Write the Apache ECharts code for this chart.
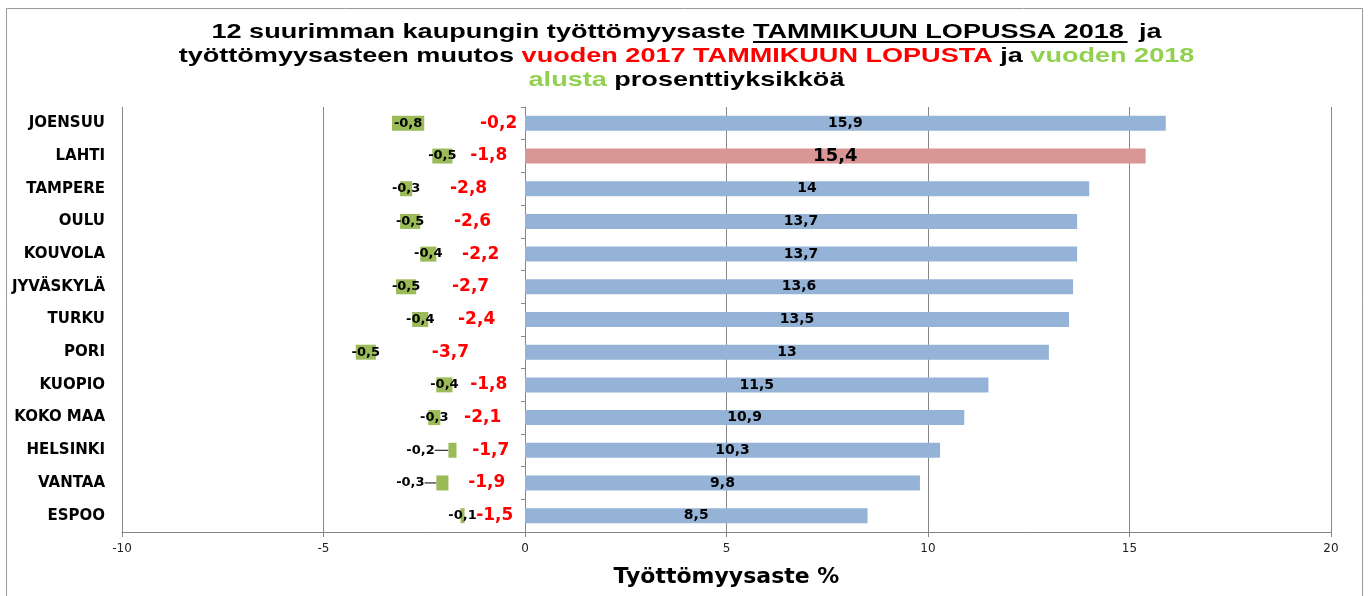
<!DOCTYPE html>
<html>
<head>
<meta charset="utf-8">
<script src="https://cdn.jsdelivr.net/npm/echarts@6/dist/echarts.min.js"></script>
<style>
  html, body { margin: 0; padding: 0; background: #fff; }
  #chart { width: 1369px; height: 596px; }
</style>
</head>
<body>
<div id="chart"></div>
<script>
// ---- data ----
const categories = ['JOENSUU', 'LAHTI', 'TAMPERE', 'OULU', 'KOUVOLA', 'JYVÄSKYLÄ', 'TURKU', 'PORI', 'KUOPIO', 'KOKO MAA', 'HELSINKI', 'VANTAA', 'ESPOO'];
// unemployment rate, end of January 2018 (%)
const rate2018 = [15.9, 15.4, 14.0, 13.7, 13.7, 13.6, 13.5, 13.0, 11.5, 10.9, 10.3, 9.8, 8.5];
// change from end of January 2017 (percentage points) - label values
const change2017 = [-0.2, -1.8, -2.8, -2.6, -2.2, -2.7, -2.4, -3.7, -1.8, -2.1, -1.7, -1.9, -1.5];
// hidden bar values the green bars sit on, as drawn in the picture
const change2017Bar = [-2.5, -1.8, -2.8, -2.6, -2.2, -2.7, -2.4, -3.7, -1.8, -2.1, -1.7, -1.9, -1.5];
// change from start of 2018 (percentage points)
const change2018 = [-0.8, -0.5, -0.3, -0.5, -0.4, -0.5, -0.4, -0.5, -0.4, -0.3, -0.2, -0.3, -0.1];
const xTicks = [-10, -5, 0, 5, 10, 15, 20];
const highlighted = 'LAHTI';
const leaderLabelCities = ['HELSINKI', 'VANTAA'];

const fmt = v => String(v).replace('.', ',');

const chart = echarts.init(document.getElementById('chart'));

const W = 1369;
const GRID = { left: 122, right: 38, top: 107, bottom: 64 };
const xMin = xTicks[0], xMax = xTicks[xTicks.length - 1];

// ---- title (horizontally stretched like the original) ----
const TFAM = '"Liberation Sans", Arial, sans-serif';
const TSIZE = 21;
const TFONT = 'bold ' + TSIZE + 'px ' + TFAM;
const ctx = document.createElement('canvas').getContext('2d');
ctx.font = TFONT;
const l1a = '12 suurimman kaupungin työttömyysaste ';
const l1u = 'TAMMIKUUN LOPUSSA 2018 ';
const l1b = ' ja';
const wA = ctx.measureText(l1a).width, wU = ctx.measureText(l1u).width, wB = ctx.measureText(l1b).width;
const w1 = wA + wU + wB;
const TSCALE = 950 / w1;
const cx = W / 2 + 2;
const uStart = cx + (-w1 / 2 + wA) * TSCALE;
const uEnd = uStart + (wU - 3) * TSCALE;

const rs = c => ({ fill: c, font: TFONT, fontFamily: TFAM, fontWeight: 'bold', fontSize: TSIZE });
const titleRich = { k: rs('#000000'), r: rs('#ff0000'), g: rs('#92d050') };
const titleLines = [
  '{k|' + l1a + l1u + l1b + '}',
  '{k|työttömyysasteen muutos }{r|vuoden 2017 TAMMIKUUN LOPUSTA}{k| ja }{g|vuoden 2018}',
  '{g|alusta}{k| prosenttiyksikköä}'
];
const titleY = [32, 56, 80];

const LABEL_FONT = '"DejaVu Sans", sans-serif';

const option = {
  backgroundColor: '#ffffff',
  animation: false,
  graphic: [
    { type: 'rect', shape: { x: 6.5, y: 8.5, width: 1356, height: 620 }, style: { fill: 'none', stroke: '#9a9a9a', lineWidth: 1 }, z: -10, silent: true },
    ...titleLines.map((t, i) => ({
      type: 'text', x: cx, y: titleY[i], scaleX: TSCALE, silent: true,
      style: { text: t, rich: titleRich, align: 'center', verticalAlign: 'middle', fill: '#000', font: TFONT }
    })),
    { type: 'line', shape: { x1: uStart, y1: 42, x2: uEnd, y2: 42 }, style: { stroke: '#000', lineWidth: 2 }, silent: true }
  ],
  grid: GRID,
  xAxis: {
    type: 'value',
    min: xMin, max: xMax, interval: 5,
    axisLine: { show: true, onZero: false, lineStyle: { color: '#868686' } },
    axisTick: { show: true, length: 5, lineStyle: { color: '#868686' } },
    splitLine: { show: true, lineStyle: { color: '#868686', width: 1 } },
    axisLabel: { fontFamily: LABEL_FONT, fontSize: 12, color: '#222', margin: 11 },
    name: 'Työttömyysaste %',
    nameLocation: 'middle',
    nameGap: 34,
    nameTextStyle: { fontFamily: LABEL_FONT, fontWeight: 'bold', fontSize: 22, color: '#000' }
  },
  yAxis: [
    {
      type: 'category', data: categories, inverse: true,
      axisLine: { show: false, onZero: false },
      axisTick: { show: false },
      axisLabel: { fontFamily: LABEL_FONT, fontWeight: 'bold', fontSize: 15, color: '#000', margin: 17 }
    },
    {
      type: 'category', data: categories, inverse: true, position: 'left',
      axisLine: { show: true, onZero: true, lineStyle: { color: '#868686' } },
      axisTick: { show: true, length: 4, lineStyle: { color: '#868686' } },
      axisLabel: { show: false }
    }
  ],
  series: [
    {
      name: 'Työttömyysaste', type: 'bar', stack: 's', barWidth: 15,
      data: rate2018.map((v, i) => ({
        value: v,
        itemStyle: { color: categories[i] === highlighted ? '#d99694' : '#95b3d7' },
        label: categories[i] === highlighted ? { fontSize: 18 } : undefined
      })),
      label: { show: true, position: 'inside', formatter: p => fmt(p.value), fontFamily: LABEL_FONT, fontWeight: 'bold', fontSize: 14, color: '#000' }
    },
    {
      name: 'Muutos 2017', type: 'bar', stack: 's', barWidth: 15,
      data: change2017Bar.map((v, i) => ({
        value: v,
        label: i === 0 ? { offset: [24, 0] } : undefined
      })),
      itemStyle: { color: 'rgba(0,0,0,0)' },
      label: { show: true, position: 'inside', formatter: p => fmt(change2017[p.dataIndex]), fontFamily: LABEL_FONT, fontWeight: 'bold', fontSize: 17, color: '#ff0000' }
    },
    {
      name: 'Muutos 2018', type: 'bar', stack: 's', barWidth: 15,
      data: change2018,
      itemStyle: { color: '#9bbb59' },
      label: { show: true, position: 'inside', formatter: p => fmt(p.value), fontFamily: LABEL_FONT, fontWeight: 'bold', fontSize: 13, color: '#000' },
      labelLine: { show: true, lineStyle: { color: '#000', width: 1 } },
      labelLayout: p => leaderLabelCities.includes(categories[p.dataIndex]) ? { dx: -32 } : {}
    }
  ]
};
chart.setOption(option);
</script>
</body>
</html>
